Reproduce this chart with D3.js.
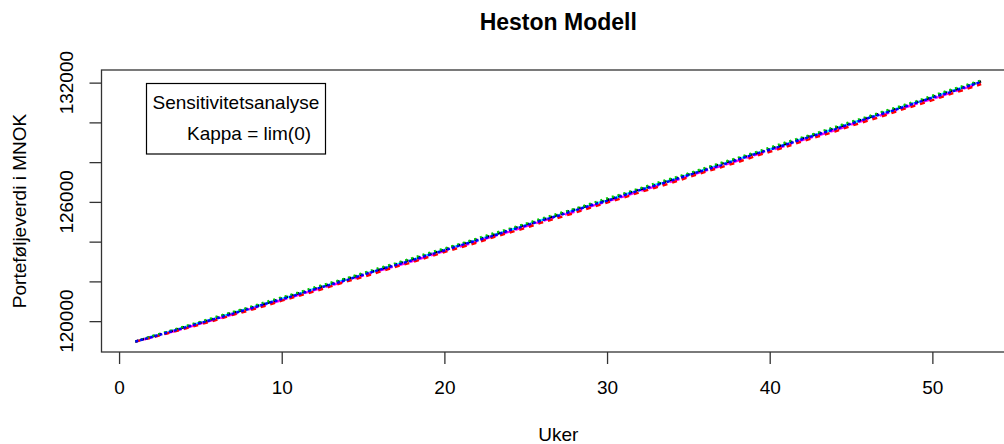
<!DOCTYPE html>
<html>
<head>
<meta charset="utf-8">
<script src="https://cdn.jsdelivr.net/npm/d3@7"></script>
<style>
body { margin: 0; background: #fff; }
text { font-family: "Liberation Sans", Arial, sans-serif; fill: #000; }
</style>
</head>
<body>
<div id="graph"></div>
<script>
// weeks on the x axis
const weeks = [1,2,3,4,5,6,7,8,9,10,11,12,13,14,15,16,17,18,19,20,21,22,23,24,25,26,27,28,29,30,
  31,32,33,34,35,36,37,38,39,40,41,42,43,44,45,46,47,48,49,50,51,52,53]

// portfolio value per simulated path
const pathBlack = [118973,119222,119447,119697,119923,120174,120426,120653,120886,121144,121393,121622,121877,122132,122363,122599,122861,123113,123346,123599,123863,124102,124337,124597,124858,125094,125356,125618,125856,126094,126363,126627,126867,127132,127373,127639,127911,128158,128406,128654,128928,129197,129442,129712,129958,130229,130501,130749,131002,131281,131550,131800,132070]
const pathRed = [118973,119172,119392,119607,119838,120064,120316,120538,120771,121029,121263,121492,121747,122002,122223,122479,122736,122958,123216,123474,123708,123947,124217,124452,124693,124964,125201,125443,125716,125964,126208,126482,126722,126967,127238,127504,127741,127988,128266,128519,128768,129047,129292,129542,129823,130074,130331,130609,130862,131116,131395,131650,131920]
const pathGreen = [118973,119242,119477,119732,119968,120224,120461,120698,120956,121194,121433,121692,121932,122162,122418,122674,122906,123163,123421,123654,123893,124157,124412,124647,124903,125169,125411,125648,125911,126174,126413,126677,126942,127182,127428,127699,127961,128208,128461,128729,128998,129242,129492,129767,130033,130279,130551,130809,131062,131341,131610,131860,132110]
const pathBlue = [118973,119197,119432,119662,119908,120134,120381,120613,120871,121104,121338,121597,121832,122067,122328,122584,122816,123053,123316,123554,123818,124057,124292,124562,124803,125069,125301,125563,125821,126054,126318,126587,126832,127077,127348,127594,127841,128113,128381,128624,128878,129152,129402,129652,129928,130199,130446,130704,130982,131241,131490,131765,132040]
const pathCyan = [118973,119217,119442,119687,119918,120154,120406,120633,120886,121124,121358,121617,121852,122102,122338,122599,122836,123073,123336,123579,123838,124072,124332,124567,124828,125089,125326,125588,125836,126079,126348,126592,126862,127107,127353,127624,127871,128133,128401,128644,128898,129172,129427,129682,129958,130209,130461,130739,130992,131261,131530,131785,132055]
const pathMagenta = [118973,119182,119407,119632,119878,120104,120336,120593,120826,121054,121308,121562,121792,122027,122288,122544,122771,123008,123271,123529,123763,124007,124272,124502,124763,125029,125261,125503,125776,126024,126268,126542,126782,127027,127298,127564,127801,128063,128331,128569,128838,129112,129352,129602,129883,130149,130396,130664,130937,131181,131455,131725,131980]

const paths = [pathCyan, pathMagenta, pathBlack, pathRed, pathGreen, pathBlue]

// tick values / labels
const xTicks = [0, 10, 20, 30, 40, 50]
const yTicks = [120000, 122000, 124000, 126000, 128000, 130000, 132000]
const yLabelled = [120000, 126000, 132000]

// R style palette + line types (same order as paths)
const colors = ['#00ffff', '#ff00ff', '#000000', '#ff0000', '#00cd00', '#0000ff']
const dashes = ['10,5', '4,4,10,4', '3,3', '5,5', '2,4', '3,2']

const W = 1004, H = 444
const margin = {top: 70, left: 101.5}
const width = 913.5
const height = 282

const svg = d3.select('#graph')
  .append('svg')
  .attr('width', W)
  .attr('height', H)

const g = svg.append('g')
  .attr('transform', `translate(${margin.left},${margin.top})`)

// scales, 4% padding like R
const xr = d3.extent(weeks)
const xpad = (xr[1] - xr[0]) * 0.04
const x = d3.scaleLinear()
  .domain([xr[0] - xpad, xr[1] + xpad])
  .range([0, width])

const yr = d3.extent(paths.flat())
const ypad = (yr[1] - yr[0]) * 0.04
const y = d3.scaleLinear()
  .domain([yr[0] - ypad, yr[1] + ypad])
  .range([height, 0])

// lines
const line = d3.line()
  .x((d, i) => x(weeks[i]))
  .y(d => y(d))

paths.forEach((p, i) => {
  g.append('path')
    .datum(p)
    .attr('d', line)
    .style('fill', 'none')
    .style('stroke', colors[i])
    .style('stroke-width', 2.4)
    .style('stroke-dasharray', dashes[i])
})

// x axis
const xAxis = g.append('g')
  .attr('transform', `translate(0,${height})`)
  .call(d3.axisBottom(x).tickValues(xTicks).tickSize(12).tickPadding(17).tickSizeOuter(0))
xAxis.select('.domain').remove()
xAxis.selectAll('line').attr('stroke', '#333').attr('stroke-width', 1.3)
xAxis.selectAll('text')
  .attr('fill', '#000')
  .style('font-size', '19px')
  .style('font-family', '"Liberation Sans", Arial, sans-serif')

// y axis
const yAxis = g.append('g')
  .call(d3.axisLeft(y).tickValues(yTicks).tickSize(12).tickFormat('').tickSizeOuter(0))
yAxis.select('.domain').remove()
yAxis.selectAll('line').attr('stroke', '#333').attr('stroke-width', 1.3)

g.selectAll('.ylab')
  .data(yLabelled)
  .enter()
  .append('text')
  .attr('class', 'ylab')
  .attr('transform', d => `translate(-35,${y(d)}) rotate(-90)`)
  .attr('dy', '0.35em')
  .style('text-anchor', 'middle')
  .style('font-size', '19px')
  .text(d => d)

// box
g.append('rect')
  .attr('width', width)
  .attr('height', height)
  .attr('fill', 'none')
  .attr('stroke', '#333')
  .attr('stroke-width', 1.3)

// title
svg.append('text')
  .attr('x', margin.left + width / 2)
  .attr('y', 30)
  .style('text-anchor', 'middle')
  .style('font-weight', 'bold')
  .style('font-size', '23px')
  .text('Heston Modell')

// axis titles
svg.append('text')
  .attr('x', margin.left + width / 2)
  .attr('y', 441)
  .style('text-anchor', 'middle')
  .style('font-size', '19px')
  .text('Uker')

svg.append('text')
  .attr('transform', `translate(19,${margin.top + height / 2}) rotate(-90)`)
  .attr('dy', '0.35em')
  .style('text-anchor', 'middle')
  .style('font-size', '19px')
  .text('Porteføljeverdi i MNOK')

// legend
const legend = svg.append('g')
  .attr('transform', 'translate(146.5,83.5)')

legend.append('rect')
  .attr('width', 179)
  .attr('height', 70.5)
  .attr('fill', '#fff')
  .attr('stroke', '#000')
  .attr('stroke-width', 1.2)

legend.append('text')
  .attr('x', 89.5)
  .attr('y', 18.5)
  .attr('dy', '0.35em')
  .style('text-anchor', 'middle')
  .style('font-size', '19px')
  .text('Sensitivitetsanalyse')

legend.append('text')
  .attr('x', 40.5)
  .attr('y', 50)
  .attr('dy', '0.35em')
  .style('font-size', '19px')
  .text('Kappa = lim(0)')
</script>
</body>
</html>
